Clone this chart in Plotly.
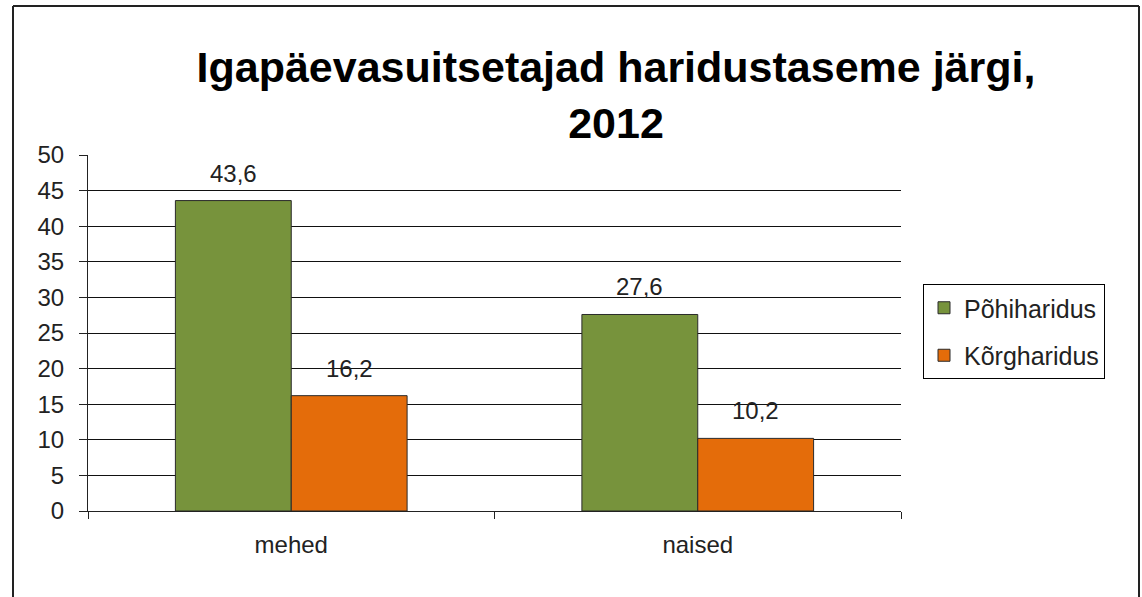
import plotly.graph_objects as go

categories = ["mehed", "naised"]
pohiharidus = [43.6, 27.6]
korgharidus = [16.2, 10.2]
series_names = ["Põhiharidus", "Kõrgharidus"]
y_ticks = [0, 5, 10, 15, 20, 25, 30, 35, 40, 45, 50]

W, H = 1142, 597
L, R, T, B = 88, 241, 155, 86
pw, ph = W - L - R, H - T - B


def px_x(x):
    return (x - L) / pw


def px_y(y):
    return (H - B - y) / ph


font = "Liberation Sans, Arial, sans-serif"
txt = "#222"
fig = go.Figure()
series = [
    (series_names[0], pohiharidus, "#77933C", "a", 0),
    (series_names[1], korgharidus, "#E46C0A", "b", 1),
]
for name, vals, color, grp, _ in series:
    fig.add_trace(go.Bar(
        x=categories, y=vals, name=name, legendgroup=grp,
        marker=dict(color=color, line=dict(color="#2a2a2a", width=1)),
        offsetgroup=grp,
    ))

# value labels above each bar, placed via the axis scale
annotations = []
for name, vals, color, grp, idx in series:
    for ci, v in enumerate(vals):
        annotations.append(dict(
            x=ci, y=v, xref="x", yref="y", xshift=(-58 if idx == 0 else 58),
            text=f"{v:.1f}".replace(".", ","), showarrow=False,
            yanchor="bottom", yshift=12,
            font=dict(size=24, color=txt, family=font),
        ))

# outer frame of the chart
frame = dict(color="#222", width=2)
x0, x1, y0, y1 = px_x(13), px_x(1139), px_y(640), px_y(6)
shapes = [
    dict(type="line", xref="paper", yref="paper", x0=x0, x1=x1, y0=y1, y1=y1, line=frame),
    dict(type="line", xref="paper", yref="paper", x0=x0, x1=x0, y0=y0, y1=y1, line=frame),
    dict(type="line", xref="paper", yref="paper", x0=x1, x1=x1, y0=y0, y1=y1, line=frame),
]

fig.update_layout(
    width=W, height=H,
    margin=dict(l=L, r=R, t=T, b=B),
    paper_bgcolor="white", plot_bgcolor="white",
    separators=", ",
    barmode="group", bargap=0.43, bargroupgap=0,
    font=dict(family=font, size=24, color=txt),
    title=dict(
        text="<b>Igapäevasuitsetajad haridustaseme järgi,<br>2012</b>",
        x=616 / W, xanchor="center", y=1 - 82 / H, yanchor="top",
        font=dict(size=43, color="black", family=font),
    ),
    showlegend=True,
    legend=dict(
        x=px_x(923), y=px_y(284), xanchor="left", yanchor="top",
        bordercolor="black", borderwidth=1, bgcolor="white",
        font=dict(size=25, color=txt, family=font),
        traceorder="grouped", tracegroupgap=12,
    ),
    xaxis=dict(
        showline=True, linecolor=txt, linewidth=1,
        ticks="outside", tickson="boundaries", ticklen=7, tickcolor=txt,
        tickfont=dict(size=24, color=txt), showgrid=False,
        ticklabelstandoff=12,
    ),
    yaxis=dict(
        range=[0, 50], tickvals=y_ticks, showline=True, linecolor=txt,
        linewidth=1, ticks="outside", ticklen=8, tickcolor=txt,
        showgrid=True, gridcolor="#111", gridwidth=1, zeroline=False,
        tickfont=dict(size=24, color=txt), ticklabelstandoff=10,
    ),
    annotations=annotations,
    shapes=shapes,
)

fig.write_html("out.html")
